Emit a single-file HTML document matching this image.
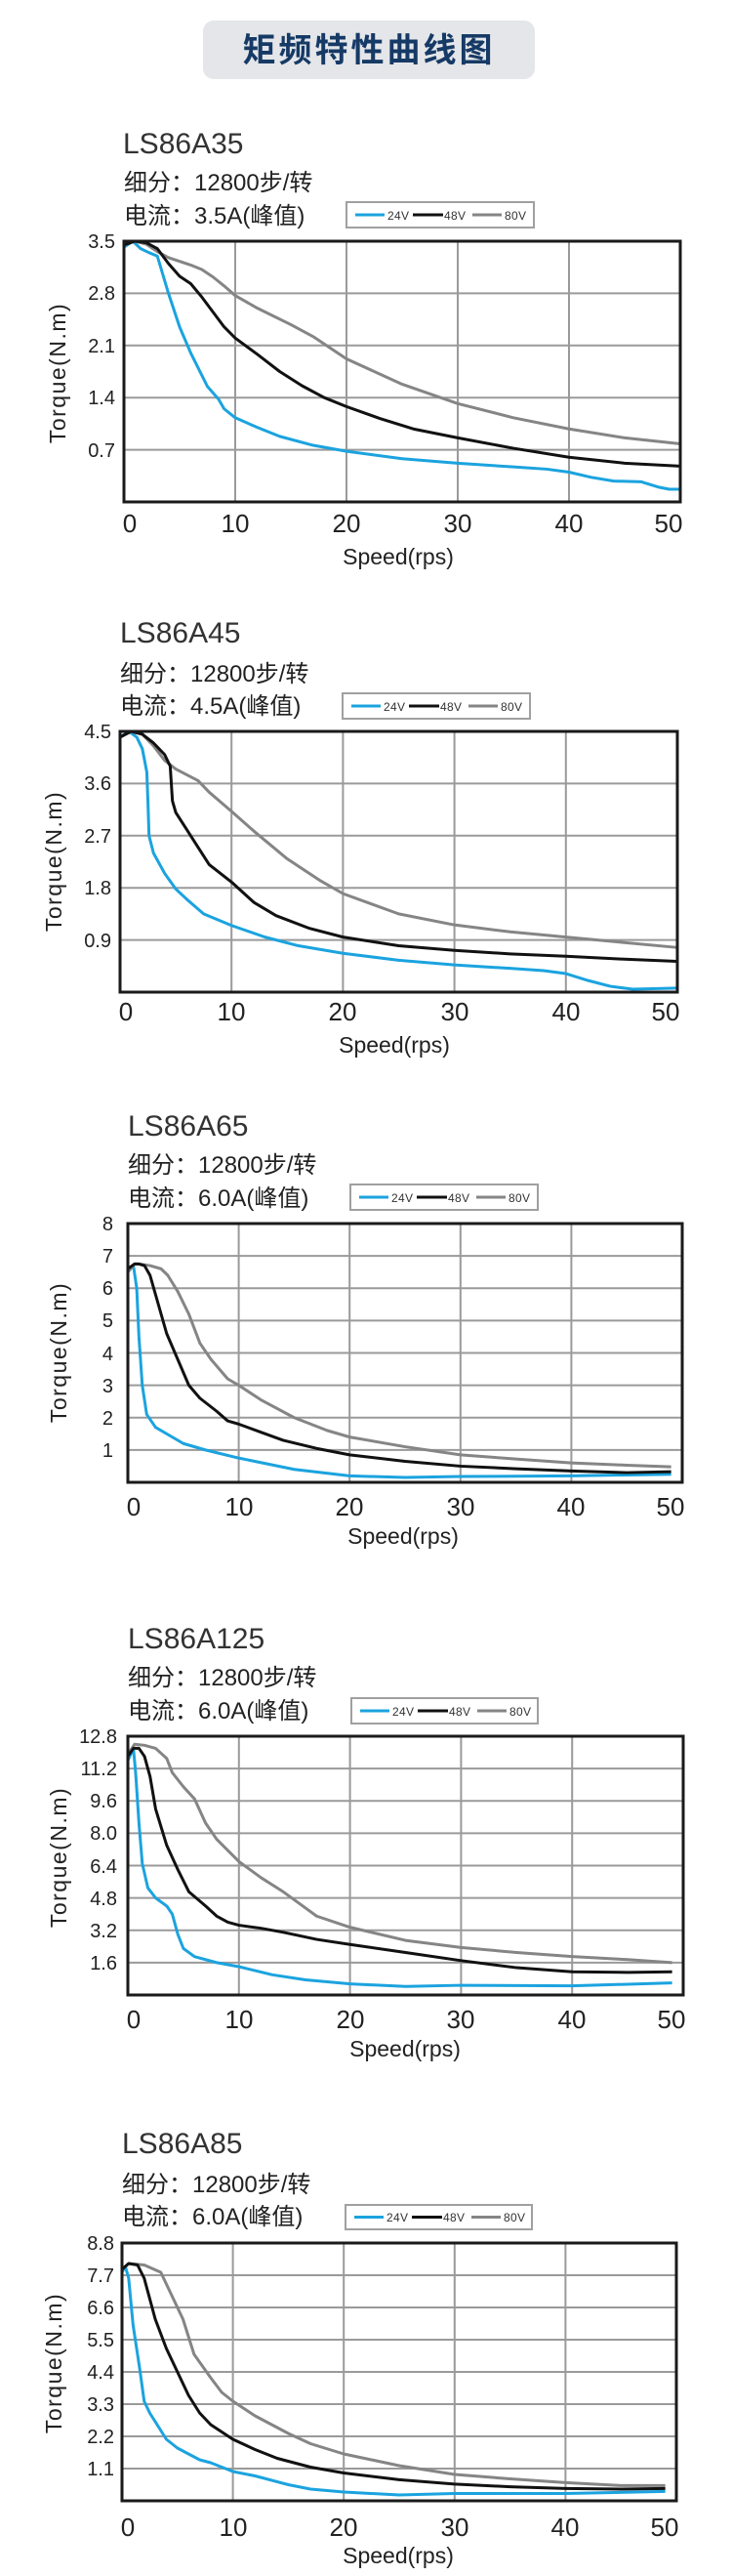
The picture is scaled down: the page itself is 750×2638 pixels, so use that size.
<!DOCTYPE html>
<html><head><meta charset="utf-8"><style>
html,body{margin:0;padding:0;background:#fff;}
svg{display:block;}
.t{font-family:"Liberation Sans","Noto Sans CJK SC",sans-serif;}
.ttl{font-size:30px;fill:#333;}
.sub{font-size:24px;fill:#222;}
.yl{font-size:20px;fill:#222;text-anchor:end;}
.xl{font-size:26px;fill:#222;text-anchor:middle;}
.ax{font-size:23px;fill:#222;text-anchor:middle;}
.lg{font-size:12px;fill:#333;}
.grid{stroke:#9a9a9a;stroke-width:2;fill:none;}
.bd{stroke:#1a1a1a;stroke-width:3;fill:none;}
.b{stroke:#1ba3df;stroke-width:3;fill:none;stroke-linejoin:round;}
.k{stroke:#111;stroke-width:3;fill:none;stroke-linejoin:round;}
.g{stroke:#858585;stroke-width:3;fill:none;stroke-linejoin:round;}
</style></head><body>
<svg width="750" height="2638" viewBox="0 0 750 2638" xmlns="http://www.w3.org/2000/svg">
<rect x="0" y="0" width="750" height="2638" fill="#fff"/>
<rect x="208" y="21" width="340" height="60" rx="11" fill="#e4e6e9"/>
<text class="t" x="378" y="63" text-anchor="middle" style="font-size:34px;font-weight:bold;fill:#163a66;letter-spacing:3px">矩频特性曲线图</text>

<!-- ========== Chart 1 ========== -->
<text class="t ttl" x="126" y="157">LS86A35</text>
<text class="t sub" x="127" y="195">细分：12800步/转</text>
<text class="t sub" x="127" y="229">电流：3.5A(峰值)</text>
<g transform="translate(355,207)">
<rect x="0" y="0" width="192" height="26" fill="#fff" stroke="#a0a0a0" stroke-width="2"/>
<line x1="9" y1="13" x2="39" y2="13" stroke="#1ba3df" stroke-width="3"/><text class="t lg" x="42" y="18" textLength="22">24V</text>
<line x1="68" y1="13" x2="99" y2="13" stroke="#111" stroke-width="3"/><text class="t lg" x="100" y="18" textLength="22">48V</text>
<line x1="129" y1="13" x2="159" y2="13" stroke="#858585" stroke-width="3"/><text class="t lg" x="162" y="18" textLength="22">80V</text>
</g>
<g transform="translate(127,514) scale(11.4,-76.286)">
<g class="grid" vector-effect="non-scaling-stroke">
<path vector-effect="non-scaling-stroke" class="grid" d="M10 0V3.5M20 0V3.5M30 0V3.5M40 0V3.5M0 0.7H50M0 1.4H50M0 2.1H50M0 2.8H50"/>
</g>
<polyline vector-effect="non-scaling-stroke" class="b" points="0,3.42 0.8,3.5 1.5,3.4 2.2,3.35 3,3.3 4,2.8 5,2.35 6,2.0 7,1.7 7.5,1.55 8.5,1.38 9,1.25 10,1.13 12,1.0 14,0.88 17,0.76 20,0.68 25,0.58 30,0.52 35,0.47 38,0.44 40,0.4 42,0.33 44,0.28 46.5,0.27 48,0.2 49,0.17 50,0.17"/>
<polyline vector-effect="non-scaling-stroke" class="g" points="0,3.45 1,3.5 2,3.46 3,3.36 4,3.28 6,3.18 7,3.12 8,3.02 9,2.9 10,2.77 12,2.6 15,2.38 17,2.22 20,1.92 25,1.58 30,1.32 35,1.13 40,0.98 45,0.86 50,0.78"/>
<polyline vector-effect="non-scaling-stroke" class="k" points="0,3.45 1,3.5 2,3.48 3,3.4 4,3.2 5,3.03 6,2.93 7,2.75 8,2.55 9,2.35 10,2.2 12,1.98 14,1.75 16,1.56 18,1.4 20,1.28 23,1.12 26,0.98 30,0.86 35,0.72 40,0.6 45,0.52 50,0.48"/>
<rect vector-effect="non-scaling-stroke" class="bd" x="0" y="0" width="50" height="3.5"/>
</g>
<g class="t yl"><text x="118" y="254">3.5</text><text x="118" y="307">2.8</text><text x="118" y="361">2.1</text><text x="118" y="414">1.4</text><text x="118" y="468">0.7</text></g>
<g class="t xl"><text x="133" y="545">0</text><text x="241" y="545">10</text><text x="355" y="545">20</text><text x="469" y="545">30</text><text x="583" y="545">40</text><text x="685" y="545">50</text></g>
<text class="t ax" x="408" y="578">Speed(rps)</text>
<text class="t ax" transform="translate(67,382) rotate(-90)" style="letter-spacing:1.5px">Torque(N.m)</text>

<!-- ========== Chart 2 ========== -->
<text class="t ttl" x="123" y="658">LS86A45</text>
<text class="t sub" x="123" y="698">细分：12800步/转</text>
<text class="t sub" x="123" y="731">电流：4.5A(峰值)</text>
<g transform="translate(351,710)">
<rect x="0" y="0" width="192" height="26" fill="#fff" stroke="#a0a0a0" stroke-width="2"/>
<line x1="9" y1="13" x2="39" y2="13" stroke="#1ba3df" stroke-width="3"/><text class="t lg" x="42" y="18" textLength="22">24V</text>
<line x1="68" y1="13" x2="99" y2="13" stroke="#111" stroke-width="3"/><text class="t lg" x="100" y="18" textLength="22">48V</text>
<line x1="129" y1="13" x2="159" y2="13" stroke="#858585" stroke-width="3"/><text class="t lg" x="162" y="18" textLength="22">80V</text>
</g>
<g transform="translate(123,1016) scale(11.42,-59.333)">
<path vector-effect="non-scaling-stroke" class="grid" d="M10 0V4.5M20 0V4.5M30 0V4.5M40 0V4.5M0 0.9H50M0 1.8H50M0 2.7H50M0 3.6H50"/>
<polyline vector-effect="non-scaling-stroke" class="b" points="0,4.4 0.8,4.5 1.5,4.4 2,4.2 2.4,3.8 2.5,3.3 2.6,2.7 3,2.4 4,2.05 5,1.78 6,1.6 7.5,1.35 10,1.15 13,0.95 16,0.8 20,0.67 25,0.55 30,0.47 35,0.41 38,0.37 40,0.32 42,0.2 44,0.1 46,0.05 50,0.07"/>
<polyline vector-effect="non-scaling-stroke" class="g" points="0,4.4 1,4.5 2,4.45 3,4.25 4,4.0 5,3.85 7,3.65 8,3.45 10,3.12 12,2.78 15,2.3 18,1.92 20,1.7 25,1.35 30,1.16 35,1.04 40,0.95 45,0.86 50,0.77"/>
<polyline vector-effect="non-scaling-stroke" class="k" points="0,4.4 1,4.5 2,4.45 3,4.3 4,4.1 4.5,3.9 4.7,3.3 5,3.1 6,2.8 7,2.5 8,2.2 10,1.9 12,1.55 14,1.32 17,1.1 20,0.95 25,0.8 30,0.72 35,0.66 40,0.62 45,0.57 50,0.53"/>
<rect vector-effect="non-scaling-stroke" class="bd" x="0" y="0" width="50" height="4.5"/>
</g>
<g class="t yl"><text x="114" y="756">4.5</text><text x="114" y="809">3.6</text><text x="114" y="863">2.7</text><text x="114" y="916">1.8</text><text x="114" y="970">0.9</text></g>
<g class="t xl"><text x="129" y="1045">0</text><text x="237" y="1045">10</text><text x="351" y="1045">20</text><text x="466" y="1045">30</text><text x="580" y="1045">40</text><text x="682" y="1045">50</text></g>
<text class="t ax" x="404" y="1078">Speed(rps)</text>
<text class="t ax" transform="translate(63,882) rotate(-90)" style="letter-spacing:1.5px">Torque(N.m)</text>

<!-- ========== Chart 3 ========== -->
<text class="t ttl" x="131" y="1163">LS86A65</text>
<text class="t sub" x="131" y="1201">细分：12800步/转</text>
<text class="t sub" x="131" y="1235">电流：6.0A(峰值)</text>
<g transform="translate(359,1213)">
<rect x="0" y="0" width="192" height="26" fill="#fff" stroke="#a0a0a0" stroke-width="2"/>
<line x1="9" y1="13" x2="39" y2="13" stroke="#1ba3df" stroke-width="3"/><text class="t lg" x="42" y="18" textLength="22">24V</text>
<line x1="68" y1="13" x2="99" y2="13" stroke="#111" stroke-width="3"/><text class="t lg" x="100" y="18" textLength="22">48V</text>
<line x1="129" y1="13" x2="159" y2="13" stroke="#858585" stroke-width="3"/><text class="t lg" x="162" y="18" textLength="22">80V</text>
</g>
<g transform="translate(131,1518) scale(11.36,-33.125)">
<path vector-effect="non-scaling-stroke" class="grid" d="M10 0V8M20 0V8M30 0V8M40 0V8M0 1H50M0 2H50M0 3H50M0 4H50M0 5H50M0 6H50M0 7H50"/>
<polyline vector-effect="non-scaling-stroke" class="b" points="0,6.5 0.5,6.7 0.8,6.0 1,4.5 1.3,3.0 1.7,2.1 2.5,1.7 4,1.4 5,1.2 7,1.0 10,0.75 15,0.4 20,0.2 25,0.15 30,0.18 40,0.2 49,0.25"/>
<polyline vector-effect="non-scaling-stroke" class="g" points="0,6.5 0.6,6.75 1,6.75 2,6.7 3,6.6 3.6,6.4 4.5,5.9 5.5,5.2 6.5,4.3 7.5,3.8 9,3.2 10,3.0 12,2.55 15,2.0 18,1.6 20,1.4 25,1.1 30,0.85 35,0.72 40,0.6 45,0.53 49,0.48"/>
<polyline vector-effect="non-scaling-stroke" class="k" points="0,6.6 0.6,6.75 1,6.75 1.5,6.7 2,6.4 2.5,5.8 3.5,4.6 4.5,3.8 5.5,3.0 6.5,2.6 8,2.2 9,1.9 10,1.8 12,1.55 14,1.3 17,1.05 20,0.85 25,0.65 30,0.5 35,0.42 40,0.35 45,0.3 49,0.33"/>
<rect vector-effect="non-scaling-stroke" class="bd" x="0" y="0" width="50" height="8"/>
</g>
<g class="t yl"><text x="116" y="1260">8</text><text x="116" y="1293">7</text><text x="116" y="1326">6</text><text x="116" y="1359">5</text><text x="116" y="1393">4</text><text x="116" y="1426">3</text><text x="116" y="1459">2</text><text x="116" y="1492">1</text></g>
<g class="t xl"><text x="137" y="1552">0</text><text x="245" y="1552">10</text><text x="358" y="1552">20</text><text x="472" y="1552">30</text><text x="585" y="1552">40</text><text x="687" y="1552">50</text></g>
<text class="t ax" x="413" y="1581">Speed(rps)</text>
<text class="t ax" transform="translate(68,1385) rotate(-90)" style="letter-spacing:1.5px">Torque(N.m)</text>

<!-- ========== Chart 4 ========== -->
<text class="t ttl" x="131" y="1688">LS86A125</text>
<text class="t sub" x="131" y="1726">细分：12800步/转</text>
<text class="t sub" x="131" y="1760">电流：6.0A(峰值)</text>
<g transform="translate(360,1739)">
<rect x="0" y="0" width="191" height="26" fill="#fff" stroke="#a0a0a0" stroke-width="2"/>
<line x1="9" y1="13" x2="39" y2="13" stroke="#1ba3df" stroke-width="3"/><text class="t lg" x="42" y="18" textLength="22">24V</text>
<line x1="68" y1="13" x2="99" y2="13" stroke="#111" stroke-width="3"/><text class="t lg" x="100" y="18" textLength="22">48V</text>
<line x1="129" y1="13" x2="159" y2="13" stroke="#858585" stroke-width="3"/><text class="t lg" x="162" y="18" textLength="22">80V</text>
</g>
<g transform="translate(131,2043) scale(11.38,-20.703)">
<path vector-effect="non-scaling-stroke" class="grid" d="M10 0V12.8M20 0V12.8M30 0V12.8M40 0V12.8M0 1.6H50M0 3.2H50M0 4.8H50M0 6.4H50M0 8H50M0 9.6H50M0 11.2H50"/>
<polyline vector-effect="non-scaling-stroke" class="b" points="0,11.6 0.5,12.2 0.7,11.0 1,8.5 1.3,6.5 1.8,5.3 2.5,4.8 3.5,4.4 4,4.0 4.5,3.0 5,2.3 6,1.9 8,1.6 10,1.4 13,1.0 16,0.75 20,0.55 25,0.42 30,0.48 40,0.45 49,0.6"/>
<polyline vector-effect="non-scaling-stroke" class="g" points="0,11.9 0.6,12.4 1.5,12.35 2.5,12.2 3.5,11.7 4,11.0 5,10.3 6,9.7 7,8.5 8,7.7 10,6.6 12,5.8 14,5.1 15.5,4.5 17,3.9 20,3.35 25,2.7 30,2.35 35,2.1 40,1.9 45,1.75 49,1.6"/>
<polyline vector-effect="non-scaling-stroke" class="k" points="0,11.8 0.5,12.2 1,12.2 1.5,11.8 2,10.8 2.5,9.2 3.5,7.4 4.5,6.2 5.5,5.1 7,4.4 8,3.9 9,3.6 10,3.45 12,3.3 14,3.1 17,2.75 20,2.5 25,2.1 30,1.7 35,1.35 40,1.15 45,1.12 49,1.15"/>
<rect vector-effect="non-scaling-stroke" class="bd" x="0" y="0" width="50" height="12.8"/>
</g>
<g class="t yl"><text x="120" y="1785">12.8</text><text x="120" y="1818">11.2</text><text x="120" y="1851">9.6</text><text x="120" y="1884">8.0</text><text x="120" y="1918">6.4</text><text x="120" y="1951">4.8</text><text x="120" y="1984">3.2</text><text x="120" y="2017">1.6</text></g>
<g class="t xl"><text x="137" y="2077">0</text><text x="245" y="2077">10</text><text x="359" y="2077">20</text><text x="472" y="2077">30</text><text x="586" y="2077">40</text><text x="688" y="2077">50</text></g>
<text class="t ax" x="415" y="2106">Speed(rps)</text>
<text class="t ax" transform="translate(68,1902) rotate(-90)" style="letter-spacing:1.5px">Torque(N.m)</text>

<!-- ========== Chart 5 ========== -->
<text class="t ttl" x="125" y="2205">LS86A85</text>
<text class="t sub" x="125" y="2245">细分：12800步/转</text>
<text class="t sub" x="125" y="2278">电流：6.0A(峰值)</text>
<g transform="translate(354,2258)">
<rect x="0" y="0" width="191" height="25" fill="#fff" stroke="#a0a0a0" stroke-width="2"/>
<line x1="9" y1="12.5" x2="39" y2="12.5" stroke="#1ba3df" stroke-width="3"/><text class="t lg" x="42" y="17" textLength="22">24V</text>
<line x1="68" y1="12.5" x2="99" y2="12.5" stroke="#111" stroke-width="3"/><text class="t lg" x="100" y="17" textLength="22">48V</text>
<line x1="129" y1="12.5" x2="159" y2="12.5" stroke="#858585" stroke-width="3"/><text class="t lg" x="162" y="17" textLength="22">80V</text>
</g>
<g transform="translate(125,2561) scale(11.36,-30)">
<path vector-effect="non-scaling-stroke" class="grid" d="M10 0V8.8M20 0V8.8M30 0V8.8M40 0V8.8M0 1.1H50M0 2.2H50M0 3.3H50M0 4.4H50M0 5.5H50M0 6.6H50M0 7.7H50"/>
<polyline vector-effect="non-scaling-stroke" class="b" points="0,7.8 0.3,8.0 0.6,7.6 1,6.0 1.6,4.5 2,3.4 2.5,3.0 4,2.1 5,1.8 7,1.4 8,1.3 10,1.0 12,0.85 15,0.55 17,0.4 20,0.3 25,0.2 30,0.25 40,0.25 49,0.32"/>
<polyline vector-effect="non-scaling-stroke" class="g" points="0,7.9 0.6,8.1 2,8.05 3.5,7.8 4.5,7.0 5.5,6.2 6.5,5.0 8,4.2 9,3.7 10,3.4 12,2.9 15,2.3 17,1.95 20,1.6 25,1.2 30,0.9 35,0.75 40,0.62 45,0.52 49,0.52"/>
<polyline vector-effect="non-scaling-stroke" class="k" points="0,7.9 0.6,8.1 1.4,8.05 2,7.6 3,6.2 4,5.2 5,4.4 6,3.6 7,3.0 8,2.6 10,2.1 12,1.75 14,1.45 17,1.15 20,0.95 25,0.72 30,0.57 35,0.48 40,0.42 45,0.4 49,0.42"/>
<rect vector-effect="non-scaling-stroke" class="bd" x="0" y="0" width="50" height="8.8"/>
</g>
<g class="t yl"><text x="117" y="2304">8.8</text><text x="117" y="2337">7.7</text><text x="117" y="2370">6.6</text><text x="117" y="2403">5.5</text><text x="117" y="2436">4.4</text><text x="117" y="2469">3.3</text><text x="117" y="2502">2.2</text><text x="117" y="2535">1.1</text></g>
<g class="t xl"><text x="131" y="2597">0</text><text x="239" y="2597">10</text><text x="352" y="2597">20</text><text x="466" y="2597">30</text><text x="579" y="2597">40</text><text x="681" y="2597">50</text></g>
<text class="t ax" x="408" y="2625">Speed(rps)</text>
<text class="t ax" transform="translate(63,2420) rotate(-90)" style="letter-spacing:1.5px">Torque(N.m)</text>
</svg>
</body></html>
